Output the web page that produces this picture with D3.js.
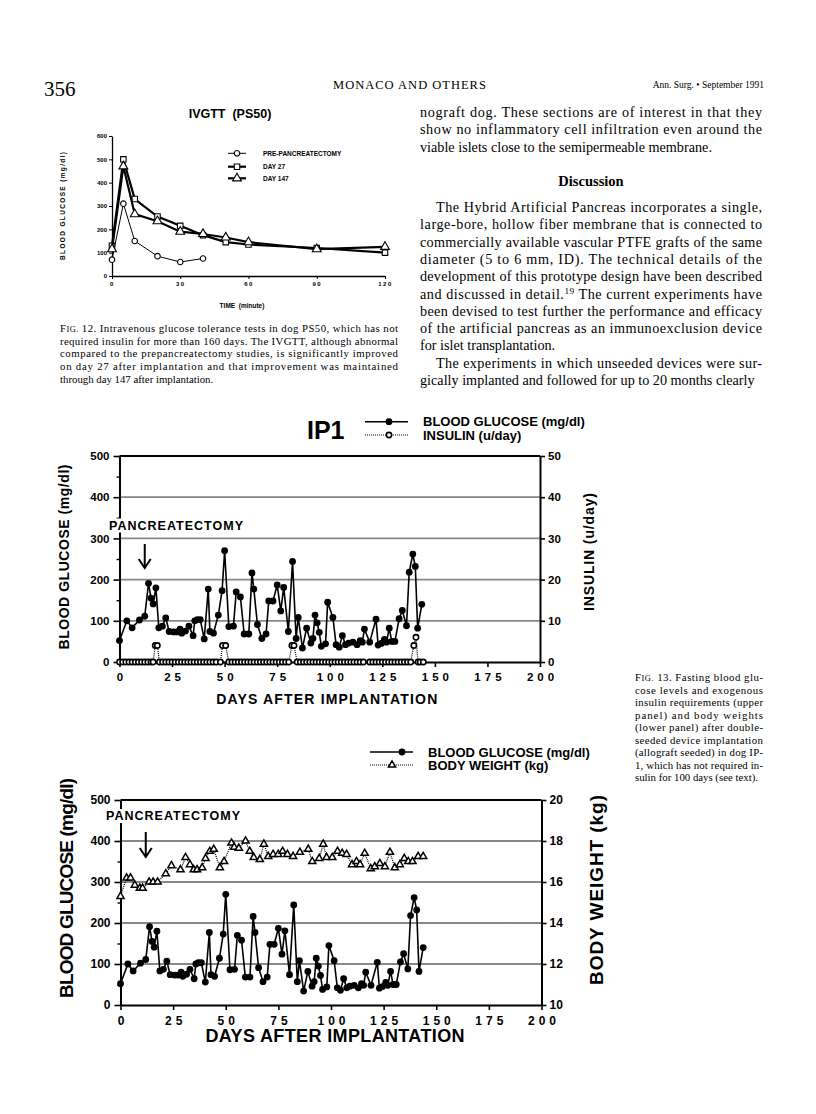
<!DOCTYPE html>
<meta charset="utf-8">
<style>
  body { margin: 0; background: #fff; }
  .sans { font-family: "Liberation Sans", Arial, sans-serif; font-weight: bold; fill: #000; }
  .serif { font-family: "Liberation Serif", "Times New Roman", serif; fill: #000; }
  .axis path, .axis line { stroke: #000; }
  .axis text { font-family: "Liberation Sans", Arial, sans-serif; font-weight: bold; fill: #000; }
</style>
<svg width="816" height="1114"></svg>
<script src="https://d3js.org/d3.v7.min.js"></script>
<script>
// ---- Fig. 12 : IVGTT (PS50) ----
var ivgttTime = [0, 5, 10, 20, 30, 40, 50, 60, 90, 120];
var prePancreatectomy = [70, 310, 150, 85, 60, 75];
var day27 = [130, 500, 330, 255, 215, 175, 145, 135, 120, 100];
var day147 = [115, 470, 265, 235, 190, 180, 165, 145, 115, 125];
var ivgttSeriesNames = ["PRE-PANCREATECTOMY", "DAY 27", "DAY 147"];
var ivgttTimeTicks = [0, 30, 60, 90, 120];
var ivgttGlucoseTicks = [0, 100, 200, 300, 400, 500, 600];

// ---- Fig. 13 : dog IP1 ----
var glucoseDays = [0, 3.5, 6, 9.5, 12, 13.8, 15, 16, 17.3, 18.7, 20.4, 22, 23.6, 25.7, 27.3, 28.8, 29.6, 31.4, 33, 35,
  35.8, 37, 38.4, 40.3, 42.2, 43, 44.7, 47, 48.8, 50, 52, 54.2, 55.5, 57.5, 59.3, 61.5, 63, 63.9, 65.6, 67.7,
  69.7, 71, 73, 75, 76.7, 78.1, 80.3, 82.3, 84, 85, 87, 89, 91, 92, 93, 94, 95, 96, 98, 99,
  101.5, 103, 104.5, 106, 107.5, 109, 111, 113, 114.5, 115.5, 116.5, 119, 122, 123, 124.5, 126, 127, 128.3, 129.5, 131,
  133, 134.5, 136.5, 137.8, 139.5, 140.7, 141.8, 143.8];
var glucoseValues = [52, 100, 83, 102, 111, 191, 155, 141, 180, 83, 87, 107, 74, 73, 73, 80, 70, 75, 87, 64,
  100, 103, 103, 56, 177, 74, 70, 114, 173, 270, 86, 87, 170, 158, 68, 68, 216, 177, 91, 57,
  68, 148, 148, 187, 124, 181, 74, 244, 57, 108, 34, 82, 46, 57, 114, 95, 72, 38, 44, 145,
  108, 42, 36, 64, 42, 46, 48, 42, 52, 48, 80, 48, 104, 41, 45, 55, 48, 82, 50, 50,
  105, 125, 88, 218, 262, 232, 82, 140];

var insulinDays = [0, 1.5, 3, 4.5, 6, 7.5, 9, 10.5, 12, 13.5, 15, 16, 17, 18, 19, 20.5, 22, 23.5, 25, 26.5,
  28, 29.5, 31, 32.5, 34, 35.5, 37, 38.5, 40, 41.5, 43, 44.5, 46, 48, 49, 50.5, 52, 53.5, 55, 56.5,
  58, 59.5, 61, 62.5, 64, 65.5, 67, 68.5, 70, 71.5, 73, 74.5, 76, 77.5, 79, 80.5, 82, 83, 84.5, 86,
  87.5, 89, 90.5, 92, 93.5, 95, 96.5, 98, 99.5, 101, 102.5, 104, 105.5, 107, 108.5, 110, 111.5, 113, 114.5, 116,
  119, 120.5, 122, 123.5, 125, 126.5, 128, 129.5, 131, 132.5, 134, 135.5, 137, 138.5, 140, 141, 142, 143, 144.5];
var insulinValues = [0, 0, 0, 0, 0, 0, 0, 0, 0, 0, 0, 0, 4, 4, 0, 0, 0, 0, 0, 0,
  0, 0, 0, 0, 0, 0, 0, 0, 0, 0, 0, 0, 0, 0, 4, 4, 0, 0, 0, 0,
  0, 0, 0, 0, 0, 0, 0, 0, 0, 0, 0, 0, 0, 0, 0, 0, 4, 4, 0, 0,
  0, 0, 0, 0, 0, 0, 0, 0, 0, 0, 0, 0, 0, 0, 0, 0, 0, 0, 0, 0,
  0, 0, 0, 0, 0, 0, 0, 0, 0, 0, 0, 0, 0, 0, 4, 6, 0, 0, 0];

var weightDays = [0, 2.9, 4.75, 6.8, 9.2, 10.5, 13.6, 15.5, 17.6, 21.5, 24.2, 28.5, 30.9, 33, 34.8, 36.4, 38.8, 40.4, 42.4, 44.3,
  47.2, 49.2, 52.7, 54, 56.2, 59.4, 61.4, 63.3, 66.2, 68.1, 70.2, 72.5, 74.9, 77, 79.3, 82, 85.2, 89.2, 91.1, 94.4,
  96.3, 97.9, 100.6, 103.1, 105.3, 107.4, 110, 112.1, 113.8, 116, 118.9, 120.8, 123.2, 125.6, 128, 130.3, 132.7, 134.8, 136.7, 138.7,
  141.4, 143.8];
var weightValues = [15.3, 16.2, 16.2, 15.85, 15.7, 15.7, 16.0, 16.0, 16.0, 16.4, 16.8, 16.6, 17.2, 16.85, 16.6, 16.6, 16.7, 17.15, 17.5, 17.6,
  16.7, 17.0, 17.9, 17.7, 17.65, 18.0, 17.5, 17.2, 17.1, 17.85, 17.25, 17.35, 17.35, 17.5, 17.35, 17.25, 17.45, 17.6, 17.0, 17.15,
  17.85, 17.2, 17.2, 17.5, 17.4, 17.35, 16.85, 17.0, 16.85, 17.4, 16.65, 16.75, 16.9, 16.75, 17.45, 16.7, 16.85, 17.15, 17.0, 17.0,
  17.25, 17.25];

var pancreatectomyDay = 12;
var dayTicks = [0, 25, 50, 75, 100, 125, 150, 175, 200];
var glucoseTicks = [0, 100, 200, 300, 400, 500];
var glucoseMinorTicks = [50, 150, 250, 350, 450];
var insulinTicks = [0, 10, 20, 30, 40, 50];
var weightTicks = [10, 12, 14, 16, 18, 20];

// ---- page text ----
var columnTop = ["nograft dog. These sections are of interest in that they",
  "show no inflammatory cell infiltration even around the",
  "viable islets close to the semipermeable membrane."];
var columnPara1 = ["The Hybrid Artificial Pancreas incorporates a single,",
  "large-bore, hollow fiber membrane that is connected to",
  "commercially available vascular PTFE grafts of the same",
  "diameter (5 to 6 mm, ID). The technical details of the",
  "development of this prototype design have been described",
  "and discussed in detail.^19 The current experiments have",
  "been devised to test further the performance and efficacy",
  "of the artificial pancreas as an immunoexclusion device",
  "for islet transplantation."];
var columnPara2 = ["The experiments in which unseeded devices were sur-",
  "gically implanted and followed for up to 20 months clearly"];
var fig12Caption = ["FIG. 12. Intravenous glucose tolerance tests in dog PS50, which has not",
  "required insulin for more than 160 days. The IVGTT, although abnormal",
  "compared to the prepancreatectomy studies, is significantly improved",
  "on day 27 after implantation and that improvement was maintained",
  "through day 147 after implantation."];
var fig13Caption = ["FIG. 13. Fasting blood glu-", "cose levels and exogenous", "insulin requirements (upper",
  "panel) and body weights", "(lower panel) after double-", "seeded device implantation",
  "(allograft seeded) in dog IP-", "1, which has not required in-", "sulin for 100 days (see text)."];

var svg = d3.select("svg");

// one line of serif text, optionally justified to a width
function addLine(str, x, y, width, size, justify) {
  var t = svg.append("text").attr("class", "serif").attr("x", x).attr("y", y)
    .style("font-size", size + "px");
  str.split(/(\^\d+|FIG\.)/).forEach(function(part) {
    if (!part) return;
    if (part === "FIG.") {
      t.append("tspan").text("F");
      t.append("tspan").style("font-size", (size * 0.78) + "px").text("IG.");
    } else if (part[0] === "^") {
      t.append("tspan").attr("baseline-shift", "super").style("font-size", (size * 0.65) + "px").text(part.slice(1));
    } else {
      t.append("tspan").text(part);
    }
  });
  if (justify) t.attr("textLength", width).attr("lengthAdjust", "spacing");
  return t;
}

function addParagraph(lines, x, y0, lh, width, size, indent) {
  lines.forEach(function(s, i) {
    var ind = i === 0 ? indent : 0;
    addLine(s, x + ind, y0 + i * lh, width - ind, size, i < lines.length - 1);
  });
}

// header
svg.append("text").attr("class", "serif").attr("x", 44).attr("y", 96).style("font-size", "21px").text("356");
svg.append("text").attr("class", "serif").attr("x", 410).attr("y", 89).attr("text-anchor", "middle")
  .style("font-size", "12.5px").style("letter-spacing", "1px").text("MONACO AND OTHERS");
svg.append("text").attr("class", "serif").attr("x", 764).attr("y", 88).attr("text-anchor", "end")
  .style("font-size", "9.5px").text("Ann. Surg. \u2022 September 1991");

// right column
var colX = 420, colW = 342, lh = 17.3;
addParagraph(columnTop, colX, 117, lh, colW, 14.2, 0);
svg.append("text").attr("class", "serif").attr("x", colX + colW / 2).attr("y", 186).attr("text-anchor", "middle")
  .style("font-size", "14.5px").style("font-weight", "bold").text("Discussion");
addParagraph(columnPara1, colX, 212, lh, colW, 14.2, 16);
addParagraph(columnPara2, colX, 212 + 9 * lh, lh, colW, 14.2, 16);

// captions
addParagraph(fig12Caption, 60, 332, 12.7, 338, 10.8, 0);
addParagraph(fig13Caption, 635, 681, 12.5, 128, 10.8, 0);

// ---------- IVGTT chart ----------
var ix = d3.scaleLinear().domain([0, 120]).range([112, 385]),
    iy = d3.scaleLinear().domain([0, 600]).range([276, 136]);
var gi = svg.append("g");

gi.append("g").attr("class", "axis").attr("transform", "translate(112,0)")
  .call(d3.axisLeft(iy).tickValues(ivgttGlucoseTicks).tickSize(3).tickPadding(2).tickSizeOuter(0))
  .call(function(g) { g.selectAll("text").style("font-size", "6px"); g.select(".domain").attr("stroke-width", 1.3); });
gi.append("g").attr("class", "axis").attr("transform", "translate(0,276)")
  .call(d3.axisBottom(ix).tickValues(ivgttTimeTicks).tickSize(3).tickPadding(3).tickSizeOuter(0))
  .call(function(g) {
    g.selectAll("text").style("font-size", "6px").style("letter-spacing", "1.5px");
    g.select(".domain").attr("stroke-width", 1.3);
  });

svg.append("text").attr("class", "sans").attr("x", 230).attr("y", 117.5).attr("text-anchor", "middle")
  .style("font-size", "12.5px").attr("xml:space", "preserve").text("IVGTT  (PS50)");
svg.append("text").attr("class", "sans").attr("transform", "translate(64.5,206) rotate(-90)")
  .attr("text-anchor", "middle").style("font-size", "6.5px").attr("textLength", 108)
  .attr("lengthAdjust", "spacing").text("BLOOD GLUCOSE (mg/dl)");
svg.append("text").attr("class", "sans").attr("x", 242).attr("y", 307.5).attr("text-anchor", "middle")
  .style("font-size", "6.5px").attr("xml:space", "preserve").text("TIME  (minute)");

var ivSeries = [
  { values: prePancreatectomy, width: 1, symbol: d3.symbolCircle, size: 24 },
  { values: day27, width: 2.2, symbol: d3.symbolSquare, size: 30 },
  { values: day147, width: 2.2, symbol: d3.symbolTriangle, size: 34 }
];
var ivLine = d3.line().x(function(d) { return ix(d[0]); }).y(function(d) { return iy(d[1]); });

ivSeries.forEach(function(s, k) {
  var pts = d3.zip(ivgttTime.slice(0, s.values.length), s.values);
  gi.append("path").attr("d", ivLine(pts)).attr("fill", "none").attr("stroke", "#000").attr("stroke-width", s.width);
  gi.selectAll(null).data(pts).join("path")
    .attr("transform", function(d) { return "translate(" + ix(d[0]) + "," + iy(d[1]) + ")"; })
    .attr("d", d3.symbol(s.symbol, s.size)).attr("fill", "#fff").attr("stroke", "#000").attr("stroke-width", 1.1);

  // legend row
  var ly = [153.3, 166.7, 178.3][k];
  gi.append("line").attr("x1", 228).attr("x2", 246).attr("y1", ly).attr("y2", ly)
    .attr("stroke", "#000").attr("stroke-width", s.width);
  gi.append("path").attr("transform", "translate(237," + ly + ")")
    .attr("d", d3.symbol(s.symbol, s.size)).attr("fill", "#fff").attr("stroke", "#000").attr("stroke-width", 1.1);
  gi.append("text").attr("class", "sans").attr("x", 263).attr("y", ly + 2.3)
    .style("font-size", "6.5px").text(ivgttSeriesNames[k]);
});

// ---------- days-after-implantation panels ----------
function drawDaysPanel(p) {
  var x = d3.scaleLinear().domain([0, 200]).range([p.left, p.right]);
  var y = d3.scaleLinear().domain([0, 500]).range([p.bottom, p.top]);
  var y2 = d3.scaleLinear().domain(p.rightDomain).range([p.bottom, p.top]);
  var g = svg.append("g");

  // dotted grid and top frame
  g.selectAll(null).data(glucoseTicks.slice(1, -1)).join("line")
    .attr("x1", p.left).attr("x2", p.right)
    .attr("y1", function(d) { return y(d); }).attr("y2", function(d) { return y(d); })
    .attr("stroke", "#111").attr("stroke-width", 1.8).attr("stroke-dasharray", "1,1");
  g.append("line").attr("x1", p.left).attr("x2", p.right).attr("y1", y(500)).attr("y2", y(500))
    .attr("stroke", "#000").attr("stroke-width", 2);

  var styleAxis = function(sel) {
    sel.select(".domain").attr("stroke-width", 2);
    sel.selectAll(".tick line").attr("stroke-width", 1.6);
    sel.selectAll("text").style("font-size", p.tickFont + "px");
  };

  g.append("g").attr("class", "axis").attr("transform", "translate(" + p.left + ",0)")
    .call(d3.axisLeft(y).tickValues(glucoseTicks).tickSize(6).tickPadding(4).tickSizeOuter(0)).call(styleAxis);
  g.append("g").attr("class", "axis").attr("transform", "translate(" + p.left + ",0)")
    .call(d3.axisLeft(y).tickValues(glucoseMinorTicks).tickSize(3).tickFormat("").tickSizeOuter(0))
    .call(function(s) { s.select(".domain").remove(); s.selectAll("line").attr("stroke-width", 1.4); });
  g.append("g").attr("class", "axis").attr("transform", "translate(" + p.right + ",0)")
    .call(d3.axisRight(y2).tickValues(p.rightTicks).tickSize(5).tickPadding(3).tickSizeOuter(0)).call(styleAxis);
  g.append("g").attr("class", "axis").attr("transform", "translate(0," + p.bottom + ")")
    .call(d3.axisBottom(x).tickValues(dayTicks).tickSize(5).tickPadding(6).tickSizeOuter(0)).call(styleAxis)
    .call(function(s) { s.selectAll("text").style("letter-spacing", "4px").attr("dx", "2px"); });

  // pancreatectomy marker
  g.append("rect").attr("x", p.pancX - 2).attr("y", p.pancY - 11).attr("width", 138).attr("height", 14).attr("fill", "#fff");
  g.append("text").attr("class", "sans").attr("x", p.pancX).attr("y", p.pancY)
    .style("font-size", "12.5px").attr("textLength", 134).attr("lengthAdjust", "spacing").text("PANCREATECTOMY");
  var ax = x(pancreatectomyDay);
  g.append("line").attr("x1", ax).attr("x2", ax).attr("y1", p.arrow[0]).attr("y2", p.arrow[1])
    .attr("stroke", "#000").attr("stroke-width", 2);
  g.append("path").attr("d", "M" + (ax - 6) + "," + (p.arrow[1] - 9) + "L" + ax + "," + p.arrow[1] + "L" + (ax + 6) + "," + (p.arrow[1] - 9))
    .attr("fill", "none").attr("stroke", "#000").attr("stroke-width", 2);

  // right-hand series (dotted)
  var rPts = d3.zip(p.rightDays, p.rightValues);
  g.append("path").attr("d", d3.line().x(function(d) { return x(d[0]); }).y(function(d) { return y2(d[1]); })(rPts))
    .attr("fill", "none").attr("stroke", "#000").attr("stroke-width", 1.2).attr("stroke-dasharray", "1,1");

  // blood glucose
  var gPts = d3.zip(glucoseDays, glucoseValues);
  g.append("path").attr("d", d3.line().x(function(d) { return x(d[0]); }).y(function(d) { return y(d[1]); })(gPts))
    .attr("fill", "none").attr("stroke", "#000").attr("stroke-width", 1.6);
  g.selectAll(null).data(gPts).join("circle")
    .attr("cx", function(d) { return x(d[0]); }).attr("cy", function(d) { return y(d[1]); })
    .attr("r", 3.4).attr("fill", "#000");

  g.selectAll(null).data(rPts).join("path")
    .attr("transform", function(d) { return "translate(" + x(d[0]) + "," + y2(d[1]) + ")"; })
    .attr("d", d3.symbol(p.rightSymbol, p.rightSize)).attr("fill", "#fff").attr("stroke", "#000").attr("stroke-width", p.rightStroke);

  // legend
  g.append("line").attr("x1", p.legX[0]).attr("x2", p.legX[1]).attr("y1", p.legY[0]).attr("y2", p.legY[0])
    .attr("stroke", "#000").attr("stroke-width", 1.6);
  g.append("circle").attr("cx", p.legX[2]).attr("cy", p.legY[0]).attr("r", 3.4).attr("fill", "#000");
  g.append("line").attr("x1", p.legX[0]).attr("x2", p.legX[1]).attr("y1", p.legY[1]).attr("y2", p.legY[1])
    .attr("stroke", "#000").attr("stroke-width", 1.2).attr("stroke-dasharray", "1,1");
  g.append("path").attr("transform", "translate(" + p.legX[3] + "," + p.legY[1] + ")")
    .attr("d", d3.symbol(p.rightSymbol, p.rightSize)).attr("fill", "#fff").attr("stroke", "#000").attr("stroke-width", p.rightStroke);
  g.append("text").attr("class", "sans").attr("x", p.legX[4]).attr("y", p.legY[0] + 4.6).style("font-size", "13px").text("BLOOD GLUCOSE (mg/dl)");
  g.append("text").attr("class", "sans").attr("x", p.legX[4]).attr("y", p.legY[1] + 4.6).style("font-size", "13px").text(p.rightName);

  // axis titles
  svg.append("text").attr("class", "sans")
    .attr("transform", "translate(" + p.leftTitle[0] + "," + p.leftTitle[1] + ") rotate(-90)")
    .attr("text-anchor", "middle").style("font-size", p.titleFont + "px")
    .attr("textLength", p.leftTitle[2]).attr("lengthAdjust", "spacing").text("BLOOD GLUCOSE (mg/dl)");
  svg.append("text").attr("class", "sans")
    .attr("transform", "translate(" + p.rightTitle[0] + "," + p.rightTitle[1] + ") rotate(-90)")
    .attr("text-anchor", "middle").style("font-size", p.titleFont + "px")
    .attr("textLength", p.rightTitle[2]).attr("lengthAdjust", "spacing").text(p.rightName);
  svg.append("text").attr("class", "sans").attr("x", (p.left + p.right) / 2 + p.daysTitle[0]).attr("y", p.daysTitle[1])
    .attr("text-anchor", "middle").style("font-size", p.daysTitle[2] + "px")
    .attr("textLength", p.daysTitle[3]).attr("lengthAdjust", "spacing").text("DAYS AFTER IMPLANTATION");
  return g;
}

drawDaysPanel({
  left: 119.5, right: 540, top: 456, bottom: 662, tickFont: 11.5,
  rightDomain: [0, 50], rightTicks: insulinTicks, rightDays: insulinDays, rightValues: insulinValues,
  rightSymbol: d3.symbolCircle, rightSize: 22, rightStroke: 1.6, rightName: "INSULIN (u/day)",
  pancX: 109, pancY: 529.5, arrow: [544, 568],
  legX: [365, 408, 389, 389, 423], legY: [421.7, 435],
  titleFont: 14, leftTitle: [69, 557, 185], rightTitle: [594, 552, 118], daysTitle: [-3, 704, 14, 221]
});
svg.append("text").attr("class", "sans").attr("x", 307).attr("y", 439).style("font-size", "25px").text("IP1");

drawDaysPanel({
  left: 120.5, right: 541.5, top: 800, bottom: 1005, tickFont: 12,
  rightDomain: [10, 20], rightTicks: weightTicks, rightDays: weightDays, rightValues: weightValues,
  rightSymbol: d3.symbolTriangle, rightSize: 22, rightStroke: 1.5, rightName: "BODY WEIGHT (kg)",
  pancX: 106, pancY: 820, arrow: [832, 857],
  legX: [370, 413, 402, 392, 428], legY: [752, 765],
  titleFont: 19, leftTitle: [73, 888, 220], rightTitle: [603, 890, 190], daysTitle: [4, 1042, 18, 259]
});
</script>
